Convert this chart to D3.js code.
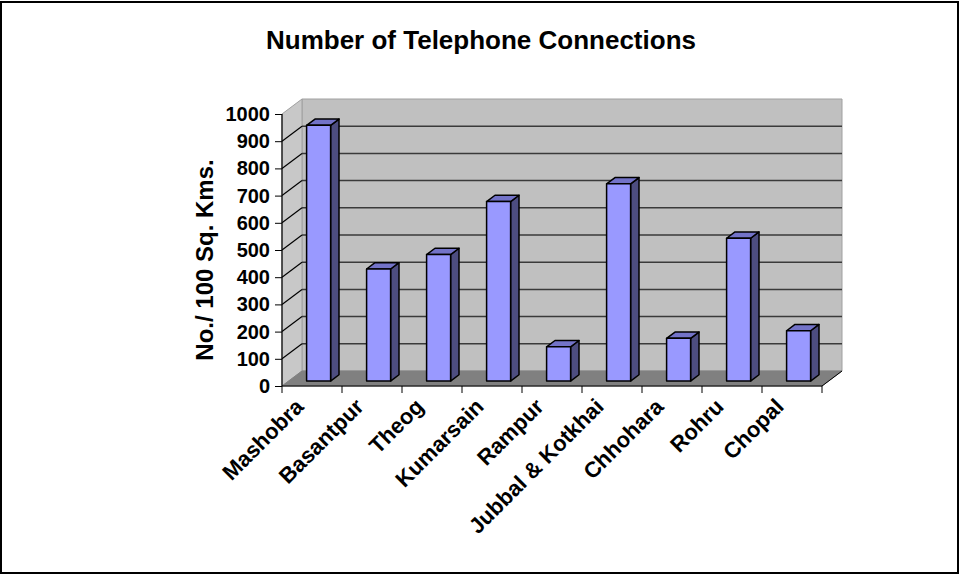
<!DOCTYPE html>
<html>
<head>
<meta charset="utf-8">
<script src="https://cdn.jsdelivr.net/npm/d3@7"></script>
<style>
body { margin:0; background:#fff; }
text { font-family: "Liberation Sans", Arial, sans-serif; font-weight:bold; fill:#000; }
</style>
</head>
<body>
<div id="chart"></div>
<script>
var categories = ["Mashobra","Basantpur","Theog","Kumarsain","Rampur","Jubbal & Kotkhai","Chhohara","Rohru","Chopal"];
var values = [940, 412, 465, 660, 126, 725, 157, 525, 185];
var yTicks = [0,100,200,300,400,500,600,700,800,900,1000];

var w = 960, h = 576;
var svg = d3.select("#chart").append("svg").attr("width",w).attr("height",h);

// outer frame
svg.append("rect").attr("x",1).attr("y",2).attr("width",957).attr("height",571)
    .attr("fill","#fff").attr("stroke","#000").attr("stroke-width",2);

// front plane scales + depth offset
var x = d3.scaleBand().domain(categories).range([282,822]);
var y = d3.scaleLinear().domain([0,1000]).range([386,114]);
var depthX = 20, depthY = -15;
function p(px, v, d){ return [px + d*depthX, y(v) + d*depthY]; }
function poly(pts){ return pts.map(function(q){return q.join(",")}).join(" "); }

var x0 = x.range()[0], x1 = x.range()[1];

// walls
svg.append("polygon").attr("points", poly([p(x0,0,1),p(x1,0,1),p(x1,1000,1),p(x0,1000,1)]))
    .attr("fill","#c0c0c0").attr("stroke","#a0a0a0").attr("stroke-width",1);
svg.append("polygon").attr("points", poly([p(x0,0,0),p(x0,0,1),p(x0,1000,1),p(x0,1000,0)]))
    .attr("fill","#c8c8c8").attr("stroke","#a0a0a0").attr("stroke-width",1);
svg.append("polygon").attr("points", poly([p(x0,0,0),p(x1,0,0),p(x1,0,1),p(x0,0,1)]))
    .attr("fill","#808080").attr("stroke","#808080").attr("stroke-width",1);

// gridlines on back wall and side wall
yTicks.filter(function(t){return t>0 && t<1000}).forEach(function(t){
    var a = p(x0,t,1), b = p(x1,t,1), c = p(x0,t,0);
    svg.append("line").attr("x1",a[0]).attr("y1",a[1]).attr("x2",b[0]).attr("y2",b[1])
        .attr("stroke","#3a3a3a").attr("stroke-width",1.5);
    svg.append("line").attr("x1",c[0]).attr("y1",c[1]).attr("x2",a[0]).attr("y2",a[1])
        .attr("stroke","#000").attr("stroke-width",1.2);
});

// floor right edge
var fr = p(x1,0,0), br = p(x1,0,1);
svg.append("line").attr("x1",fr[0]).attr("y1",fr[1]).attr("x2",br[0]).attr("y2",br[1])
    .attr("stroke","#000").attr("stroke-width",1);

// bars
var barW = x.bandwidth()*0.4, d0 = 0.33, d1 = 0.75;
var bars = svg.append("g");
categories.forEach(function(c,i){
    var bx = x(c) + (x.bandwidth()-barW)/2, v = values[i];
    var front = [p(bx,0,d0),p(bx+barW,0,d0),p(bx+barW,v,d0),p(bx,v,d0)];
    var side = [p(bx+barW,0,d0),p(bx+barW,0,d1),p(bx+barW,v,d1),p(bx+barW,v,d0)];
    var top = [p(bx,v,d0),p(bx+barW,v,d0),p(bx+barW,v,d1),p(bx,v,d1)];
    bars.append("polygon").attr("points",poly(side)).attr("fill","#4d4d80")
        .attr("stroke","#000").attr("stroke-width",1.5).attr("stroke-linejoin","round");
    bars.append("polygon").attr("points",poly(top)).attr("fill","#7373c8")
        .attr("stroke","#000").attr("stroke-width",1.5).attr("stroke-linejoin","round");
    bars.append("polygon").attr("points",poly(front)).attr("fill","#9999ff")
        .attr("stroke","#000").attr("stroke-width",1.5).attr("stroke-linejoin","round");
});

// y axis
var yAxis = svg.append("g").attr("transform","translate("+x0+",0)")
    .call(d3.axisLeft(y).tickValues(yTicks).tickFormat(d3.format("d")).tickSize(7).tickPadding(5));
yAxis.select(".domain").remove();
yAxis.selectAll("line").attr("stroke","#000").attr("stroke-width",1);
yAxis.selectAll("text").style("font-family","'Liberation Sans', Arial, sans-serif")
    .style("font-weight","bold").style("font-size","20px").attr("fill","#000");
svg.append("line").attr("x1",x0).attr("y1",y(0)).attr("x2",x0).attr("y2",y(1000))
    .attr("stroke","#000").attr("stroke-width",1.2);

// x axis
svg.append("line").attr("x1",x0).attr("y1",y(0)).attr("x2",x1).attr("y2",y(0))
    .attr("stroke","#000").attr("stroke-width",1.2);
var edges = categories.map(function(c){return x(c)}).concat([x1]);
svg.selectAll(".xt").data(edges).enter().append("line")
    .attr("x1",function(d){return d}).attr("x2",function(d){return d})
    .attr("y1",y(0)).attr("y2",y(0)+7).attr("stroke","#000").attr("stroke-width",1);
svg.selectAll(".xl").data(categories).enter().append("text")
    .attr("transform",function(d){return "translate("+(x(d)+x.bandwidth()/2-7)+","+(y(0)+22)+") rotate(-45)"})
    .attr("text-anchor","end").style("font-size","22px").text(function(d){return d});

// axis title
svg.append("text").attr("transform","translate(213,260) rotate(-90)")
    .attr("text-anchor","middle").style("font-size","24px").text("No./ 100 Sq. Kms.");

// title
svg.append("text").attr("x",481).attr("y",49).attr("text-anchor","middle")
    .style("font-size","26px").text("Number of Telephone Connections");
</script>
</body>
</html>
